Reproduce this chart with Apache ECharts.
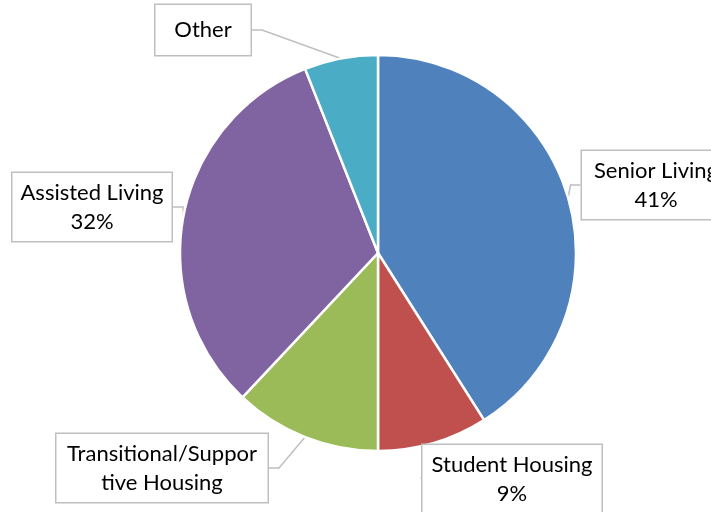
<!DOCTYPE html>
<html>
<head>
<meta charset="utf-8">
<style>
  html, body { margin: 0; padding: 0; background: #fff; }
  #chart { width: 711px; height: 512px; }
</style>
<script src="https://cdn.jsdelivr.net/npm/echarts@6/dist/echarts.min.js"></script>
</head>
<body>
<div id="chart"></div>
<script>
const categories = ['Senior Living', 'Student Housing', 'Transitional/Supportive Housing', 'Assisted Living', 'Other'];
const shares = [41, 9, 12, 32, 6];
const labelText = ['Senior Living\n41%', 'Student Housing\n9%', 'Transitional/Suppor\ntive Housing', 'Assisted Living\n32%', 'Other'];
const colors = ['#4f81bd', '#c0504d', '#9bbb59', '#8064a2', '#4bacc6'];

// callout box centres and sizes
const boxCenter = [[656, 185], [512, 479], [162, 468], [92, 207], [203, 30]];
const boxWidth = [140, 171, 203, 151, 87];
const boxHeight = [60, 60, 60, 60, 42];

const chart = echarts.init(document.getElementById('chart'));

const option = {
  animation: false,
  series: [
    {
      type: 'pie',
      center: [378, 253],
      radius: 198,
      startAngle: 90,
      clockwise: true,
      itemStyle: {
        borderColor: '#fff',
        borderWidth: 2.5
      },
      label: {
        show: true,
        position: 'outside',
        color: '#000',
        fontFamily: 'Lato',
        fontSize: 22,
        lineHeight: 29,
        align: 'center',
        overflow: 'none',
        backgroundColor: '#fff',
        borderColor: '#bfbfbf',
        borderWidth: 1.5,
        padding: [4, 4]
      },
      labelLine: {
        show: true,
        length: 10,
        length2: 10,
        lineStyle: { color: '#bfbfbf', width: 1.5 }
      },
      labelLayout: function (params) {
        const i = params.dataIndex;
        return {
          x: boxCenter[i][0],
          y: boxCenter[i][1],
          align: 'center',
          verticalAlign: 'middle'
        };
      },
      data: categories.map((name, i) => ({
        name: name,
        value: shares[i],
        itemStyle: { color: colors[i] },
        label: {
          formatter: labelText[i],
          width: boxWidth[i],
          height: boxHeight[i]
        }
      }))
    }
  ]
};

chart.setOption(option);
</script>
</body>
</html>
